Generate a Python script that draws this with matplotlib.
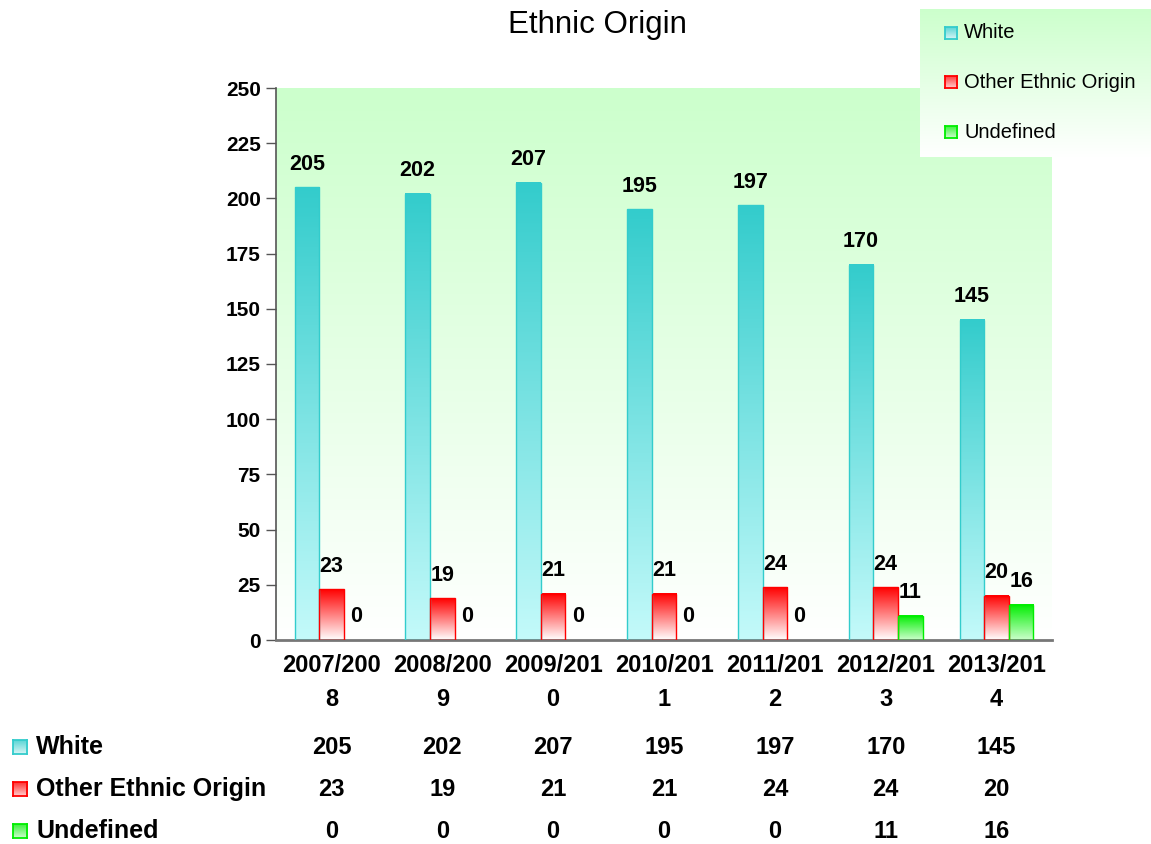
import numpy as np
import matplotlib
matplotlib.use("Agg")
import matplotlib.pyplot as plt
from matplotlib.colors import LinearSegmentedColormap
from matplotlib.patches import Rectangle
from matplotlib.transforms import blended_transform_factory

plt.rcParams['font.family'] = ['Liberation Sans', 'DejaVu Sans']

categories = ["2007/2008", "2008/2009", "2009/2010", "2010/2011",
              "2011/2012", "2012/2013", "2013/2014"]
tick_labels = ["2007/200\n8", "2008/200\n9", "2009/201\n0", "2010/201\n1",
               "2011/201\n2", "2012/201\n3", "2013/201\n4"]
series_names = ["White", "Other Ethnic Origin", "Undefined"]
white = [205, 202, 207, 195, 197, 170, 145]
other = [23, 19, 21, 21, 24, 24, 20]
undefined = [0, 0, 0, 0, 0, 11, 16]

# (top colour, bottom colour, edge colour)
styles = [("#33CCCC", "#C4FAFA", "#33CCCC"),
          ("#FF0000", "#FFFFFF", "#FF0000"),
          ("#00EE00", "#CCFFCC", "#00EE00")]

W, H = 1151, 844
fig = plt.figure(figsize=(W / 100, H / 100), dpi=100)

ax_l, ax_r, ax_t, ax_b = 276, 1052, 88, 640
ax = fig.add_axes([ax_l / W, 1 - ax_b / H, (ax_r - ax_l) / W, (ax_b - ax_t) / H])

# background gradient
bg = LinearSegmentedColormap.from_list("bg", ["#FFFFFF", "#CCFFCC"])
grad = np.linspace(0, 1, 256).reshape(-1, 1)
ax.imshow(grad, cmap=bg, origin="lower", aspect="auto", extent=(0, 1, 0, 1),
          transform=ax.transAxes, zorder=0)

x = np.arange(len(categories))
bw = 0.222
data = [white, other, undefined]
offsets = [-bw, 0, bw]
ax.set_xlim(-0.5, len(categories) - 0.5)
ax.set_ylim(0, 250)

for vals, off, (ctop, cbot, cedge) in zip(data, offsets, styles):
    bars = ax.bar(x + off, vals, width=bw, facecolor="none", edgecolor="none", zorder=2)
    cmap = LinearSegmentedColormap.from_list("g", [cbot, ctop])
    for b, v in zip(bars, vals):
        bx, by, bwid, bh = b.get_x(), b.get_y(), b.get_width(), b.get_height()
        if bh > 0:
            ax.imshow(grad, cmap=cmap, origin="lower", aspect="auto",
                      extent=(bx, bx + bwid, by, by + bh), zorder=2,
                      interpolation="bilinear")
            ax.add_patch(Rectangle((bx, by), bwid, bh, facecolor="none",
                                   edgecolor=cedge, linewidth=1.0, zorder=3))
        ax.annotate(str(v), (bx + bwid / 2, by + bh), xytext=(0, 9),
                    textcoords="offset points", ha="center", va="bottom",
                    fontsize=15.5, fontweight="bold", zorder=4)

ax.set_xlim(-0.5, len(categories) - 0.5)
ax.set_ylim(0, 250)
ax.set_yticks(np.arange(0, 251, 25))
ax.set_xticks(x)
ax.set_xticklabels(tick_labels, fontsize=17, fontweight="bold", linespacing=1.6)
for lab in ax.get_yticklabels():
    lab.set_fontsize(15)
    lab.set_fontweight("bold")
ax.tick_params(axis="y", direction="out", length=7, width=1, color="#555555", pad=4)
ax.tick_params(axis="x", length=0, pad=10)
for s in ["top", "right"]:
    ax.spines[s].set_visible(False)
ax.spines["left"].set_color("#555555")
ax.spines["bottom"].set_color("#777777")
ax.spines["bottom"].set_linewidth(2)
ax.spines["left"].set_linewidth(1.2)

fig.text(597 / W, 1 - 25 / H, "Ethnic Origin", ha="center", va="center", fontsize=22.5)


def grad_marker(px, py, size, style):
    ctop, cbot, cedge = style
    m = fig.add_axes([px / W, 1 - (py + size / 2) / H, size / W, size / H], zorder=6)
    cm = LinearSegmentedColormap.from_list("m", ["#FFFFFF", ctop])
    m.imshow(grad, cmap=cm, origin="lower", aspect="auto", extent=(0, 1, 0, 1),
             vmin=-0.3, vmax=1.3)
    m.set_xlim(0, 1)
    m.set_ylim(0, 1)
    m.set_xticks([])
    m.set_yticks([])
    for sp in m.spines.values():
        sp.set_color(cedge)
        sp.set_linewidth(1.3)


# legend box
lg = fig.add_axes([920 / W, 1 - 157 / H, (W - 920) / W, (157 - 9) / H], zorder=5)
lg.imshow(grad, cmap=bg, origin="lower", aspect="auto", extent=(0, 1, 0, 1),
          transform=lg.transAxes, zorder=0)
lg.set_xlim(0, 1)
lg.set_ylim(0, 1)
lg.axis("off")
leg_y = [33, 82, 132]
for name, st, ly in zip(series_names, styles, leg_y):
    grad_marker(945, ly, 12, st)
    fig.text(964 / W, 1 - ly / H, name, ha="left", va="center", fontsize=14.5, zorder=7)

# data table
trans = blended_transform_factory(ax.transData, fig.transFigure)
row_y = [747, 789, 831]
for name, vals, st, ry in zip(series_names, data, styles, row_y):
    fy = 1 - ry / H
    grad_marker(13, ry, 14, st)
    fig.text(36 / W, fy, name, ha="left", va="center", fontsize=18, fontweight="bold")
    for xi, v in zip(x, vals):
        ax.text(xi, fy, str(v), transform=trans, ha="center", va="center",
                fontsize=17, fontweight="bold", clip_on=False)

fig.savefig("out.png", dpi=100)
